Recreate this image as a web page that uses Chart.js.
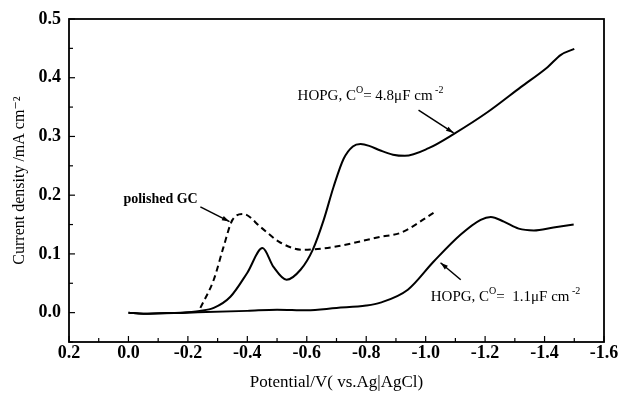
<!DOCTYPE html>
<html>
<head>
<meta charset="utf-8">
<script src="https://cdn.jsdelivr.net/npm/chart.js@4/dist/chart.umd.min.js"></script>
<style>
  html, body { margin: 0; padding: 0; background: #fff; }
  #wrap { width: 621px; height: 397px; }
</style>
</head>
<body>
<div id="wrap"><canvas id="cv"></canvas></div>
<script>
// HOPG, C0 = 4.8 uF cm-2
const hopg48X = [0.0, -0.05, -0.1, -0.175, -0.24, -0.287, -0.343, -0.40, -0.451, -0.488, -0.532, -0.579, -0.62, -0.657, -0.69, -0.724, -0.755, -0.781, -0.81, -0.848, -0.89, -0.93, -1.01, -1.094, -1.21, -1.32, -1.41, -1.455, -1.50];
const hopg48Y = [0.0, -0.002, -0.001, 0.0, 0.003, 0.008, 0.027, 0.068, 0.110, 0.078, 0.056, 0.073, 0.107, 0.158, 0.214, 0.262, 0.283, 0.287, 0.284, 0.276, 0.269, 0.267, 0.280, 0.304, 0.342, 0.384, 0.418, 0.439, 0.449];

// HOPG, C0 = 1.1 uF cm-2
const hopg11X = [0.0, -0.05, -0.2, -0.4, -0.5, -0.6, -0.7, -0.8, -0.848, -0.94, -1.027, -1.118, -1.185, -1.219, -1.263, -1.313, -1.364, -1.43, -1.498];
const hopg11Y = [0.0, -0.002, 0.0, 0.003, 0.005, 0.004, 0.008, 0.012, 0.017, 0.039, 0.087, 0.133, 0.158, 0.163, 0.155, 0.143, 0.140, 0.145, 0.150];

// polished GC
const gcX = [-0.242, -0.287, -0.32, -0.35, -0.387, -0.444, -0.512, -0.589, -0.68, -0.848, -0.916, -1.027];
const gcY = [0.008, 0.056, 0.112, 0.158, 0.168, 0.146, 0.119, 0.107, 0.111, 0.129, 0.136, 0.170];

const xTickLabels = ['0.2', '0.0', '-0.2', '-0.4', '-0.6', '-0.8', '-1.0', '-1.2', '-1.4', '-1.6'];
const yTickLabels = ['0.0', '0.1', '0.2', '0.3', '0.4', '0.5'];

function pts(xs, ys) {
    return xs.map((x, i) => ({ x: x, y: ys[i] }));
}

// annotation anchors in data units
const notes = [
    { parts: [['polished GC', 0]], x: 0.017, y: 0.187, bold: true, size: 14,
      from: [-0.242, 0.180], to: [-0.34, 0.155] },
    { parts: [['HOPG, C', 0], ['O', 1], ['= 4.8\u03bcF cm', 0], [' -2', 1]], x: -0.569, y: 0.362, size: 15,
      from: [-0.976, 0.345], to: [-1.094, 0.306] },
    { parts: [['HOPG, C', 0], ['O', 1], ['=  1.1\u03bcF cm', 0], [' -2', 1]], x: -1.017, y: 0.019, size: 15,
      from: [-1.118, 0.056], to: [-1.05, 0.085] }
];

const SERIF = '"Liberation Serif", "DejaVu Serif", serif';

const framePlugin = {
    id: 'frame',
    afterDraw(chart) {
        const c = chart.ctx;
        const a = chart.chartArea;
        const xs = chart.scales.x, ys = chart.scales.y;
        c.save();
        c.strokeStyle = '#000';
        c.lineWidth = 1.8;
        c.strokeRect(a.left, a.top, a.right - a.left, a.bottom - a.top);
        // inward ticks
        c.lineWidth = 1.2;
        xs.ticks.forEach(t => {
            const px = xs.getPixelForValue(t.value);
            const major = Math.abs(Math.round(t.value * 10)) % 2 === 0;
            const len = major ? 6 : 4;
            c.beginPath();
            c.moveTo(px, a.bottom);
            c.lineTo(px, a.bottom - len);
            c.stroke();
        });
        ys.ticks.forEach(t => {
            const py = ys.getPixelForValue(t.value);
            const major = Math.abs(Math.round(t.value * 100)) % 10 === 0;
            const len = major ? 6 : 4;
            c.beginPath();
            c.moveTo(a.left, py);
            c.lineTo(a.left + len, py);
            c.stroke();
        });
        // annotations
        c.fillStyle = '#000';
        c.textBaseline = 'alphabetic';
        notes.forEach(n => {
            let px = xs.getPixelForValue(n.x);
            const py = ys.getPixelForValue(n.y);
            n.parts.forEach(([txt, sup]) => {
                c.font = (n.bold ? 'bold ' : '') + (sup ? '10px ' : n.size + 'px ') + SERIF;
                c.fillText(txt, px, sup ? py - 7 : py);
                px += c.measureText(txt).width;
            });
            const fx = xs.getPixelForValue(n.from[0]), fy = ys.getPixelForValue(n.from[1]);
            const tx = xs.getPixelForValue(n.to[0]), ty = ys.getPixelForValue(n.to[1]);
            c.lineWidth = 1.5;
            c.beginPath();
            c.moveTo(fx, fy);
            c.lineTo(tx, ty);
            c.stroke();
            const ang = Math.atan2(ty - fy, tx - fx);
            c.beginPath();
            c.moveTo(tx, ty);
            c.lineTo(tx - 8 * Math.cos(ang - 0.3), ty - 8 * Math.sin(ang - 0.3));
            c.lineTo(tx - 8 * Math.cos(ang + 0.3), ty - 8 * Math.sin(ang + 0.3));
            c.closePath();
            c.fill();
        });
        c.restore();
    }
};

const lineStyle = {
    borderColor: '#000',
    borderWidth: 2,
    pointRadius: 0,
    fill: false,
    cubicInterpolationMode: 'monotone'
};

new Chart(document.getElementById('cv'), {
    type: 'line',
    data: {
        datasets: [
            Object.assign({ label: 'HOPG 4.8', data: pts(hopg48X, hopg48Y) }, lineStyle),
            Object.assign({ label: 'HOPG 1.1', data: pts(hopg11X, hopg11Y) }, lineStyle),
            Object.assign({ label: 'polished GC', data: pts(gcX, gcY), borderDash: [6, 4] }, lineStyle)
        ]
    },
    options: {
        responsive: true,
        maintainAspectRatio: false,
        animation: false,
        layout: { padding: { top: 19, right: 17, bottom: 0, left: 0 } },
        plugins: { legend: { display: false }, tooltip: { enabled: false } },
        scales: {
            x: {
                type: 'linear',
                reverse: true,
                min: -1.6,
                max: 0.2,
                ticks: {
                    stepSize: 0.1,
                    autoSkip: false,
                    maxRotation: 0,
                    padding: 1,
                    color: '#000',
                    font: { family: SERIF, size: 18, weight: 'bold' },
                    callback: v => {
                        const k = Math.round(v * 10);
                        if (k % 2 !== 0) return '';
                        return xTickLabels[(2 - k) / 2];
                    }
                },
                grid: { drawOnChartArea: false, drawTicks: false },
                border: { display: false },
                title: {
                    display: true,
                    text: 'Potential/V( vs.Ag|AgCl)',
                    color: '#000',
                    font: { family: SERIF, size: 17 },
                    padding: { top: 4, bottom: 4 }
                },
                afterFit: s => { s.height = 55; }
            },
            y: {
                min: -0.05,
                max: 0.5,
                ticks: {
                    stepSize: 0.05,
                    autoSkip: false,
                    padding: 8,
                    color: '#000',
                    font: { family: SERIF, size: 18, weight: 'bold' },
                    callback: v => {
                        const k = Math.round(v * 100);
                        if (k < 0 || k % 10 !== 0) return '';
                        return yTickLabels[k / 10];
                    }
                },
                grid: { drawOnChartArea: false, drawTicks: false },
                border: { display: false },
                title: {
                    display: true,
                    text: 'Current density /mA cm\u207b\u00b2',
                    color: '#000',
                    font: { family: SERIF, size: 16 },
                    padding: { top: 10, bottom: 0 }
                },
                afterFit: s => { s.width = 69; }
            }
        }
    },
    plugins: [framePlugin]
});
</script>
</body>
</html>
